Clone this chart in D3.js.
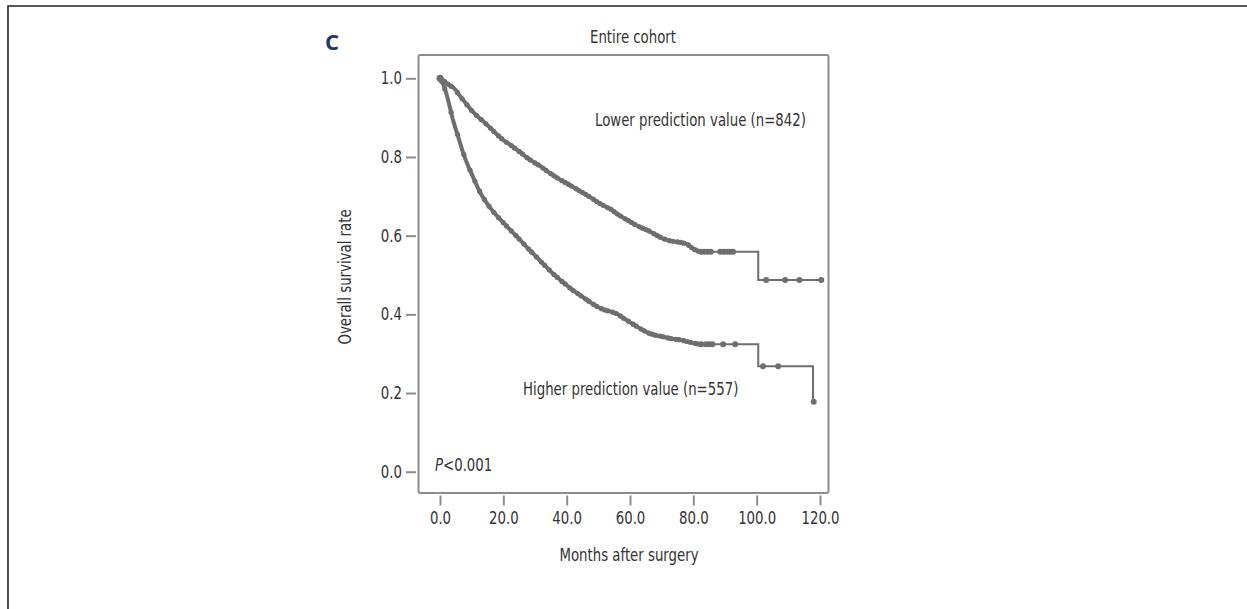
<!DOCTYPE html>
<html>
<head>
<meta charset="utf-8">
<script src="https://cdn.jsdelivr.net/npm/d3@7"></script>
<style>
  body { margin: 0; background: #fff; }
  text { font-family: "DejaVu Sans Condensed", "DejaVu Sans", sans-serif; fill: #333; }
</style>
</head>
<body>
<div id="viz_div"></div>
<script>
// DATA
// ---------------------------------------------------------------------------------------------
const xTicks = [0, 20, 40, 60, 80, 100, 120];
const yTicks = [0, 0.2, 0.4, 0.6, 0.8, 1.0];

// lower prediction value group (n=842): [months, survival]
const lowerSurv = [
  [0, 1.0], [1, 0.995], [2, 0.988], [3, 0.982], [4, 0.978], [5, 0.97], [6, 0.958], [7, 0.948],
  [8, 0.938], [9, 0.928], [10, 0.918], [12, 0.902], [14, 0.888], [16, 0.873], [18, 0.857],
  [20, 0.843], [22, 0.832], [24, 0.82], [26, 0.808], [28, 0.795], [30, 0.785], [32, 0.775],
  [34, 0.763], [36, 0.752], [38, 0.742], [40, 0.733], [42, 0.724], [44, 0.714], [46, 0.705],
  [48, 0.695], [50, 0.684], [52, 0.675], [54, 0.667], [56, 0.655], [58, 0.645], [60, 0.636],
  [62, 0.626], [64, 0.619], [66, 0.612], [68, 0.603], [70, 0.594], [72, 0.588], [74, 0.585],
  [76, 0.583], [78, 0.579], [80, 0.566], [82, 0.559], [100.5, 0.487], [120.5, 0.487]
];
const lowerCensor = [0.5, 1.5, 2.5, 3.5, 5.5, 7, 8.5, 10, 11.5, 13, 14.5, 16, 17, 18.5, 19.5, 21, 22.5,
  23.5, 25, 26, 27.5, 28.5, 30, 31, 32.5, 33.5, 35, 36, 37, 38.5, 39.5, 40.5, 41.5, 43, 44, 45, 46, 47,
  48.5, 49.5, 50.5, 51.5, 53, 54, 55, 56, 57, 58.5, 59.5, 60.5, 61.5, 63, 64, 65, 66, 67.5, 68.5, 69.5,
  71, 72.5, 73.5, 75, 76, 77, 78.5, 79.5, 80.5, 81.5, 82.5, 83.5, 84.5, 85.5, 88.5, 89.5, 90.5, 91.5,
  92.5, 103, 109, 113.5, 120.4];

// higher prediction value group (n=557)
const higherSurv = [
  [0, 1.0], [1, 0.985], [2, 0.962], [3, 0.93], [4, 0.897], [5, 0.87], [6, 0.845], [7, 0.818],
  [8, 0.795], [9, 0.775], [10, 0.757], [11, 0.739], [12, 0.721], [13, 0.705], [14, 0.692],
  [15, 0.68], [16, 0.669], [18, 0.65], [20, 0.633], [22, 0.616], [24, 0.6], [26, 0.583],
  [28, 0.566], [30, 0.55], [32, 0.533], [34, 0.517], [36, 0.501], [38, 0.487], [40, 0.474],
  [42, 0.461], [44, 0.45], [46, 0.439], [48, 0.428], [50, 0.418], [52, 0.411], [54, 0.407],
  [56, 0.401], [58, 0.39], [60, 0.38], [62, 0.37], [64, 0.36], [66, 0.352], [68, 0.347],
  [70, 0.344], [72, 0.34], [74, 0.337], [76, 0.335], [78, 0.331], [80, 0.327], [82, 0.324],
  [100.5, 0.268], [117.8, 0.178], [118.2, 0.178]
];
const higherCensor = [0.5, 1.5, 3.5, 5.5, 7.5, 9.5, 11, 12.5, 14, 15.5, 17, 18.5, 20, 21, 22.5, 24, 25,
  26.5, 28, 29, 30.5, 32, 33, 34.5, 36, 37, 38.5, 39.5, 41, 42, 43.5, 44.5, 46, 47, 48.5, 49.5, 51, 52,
  53, 54.5, 55.5, 57, 58, 59.5, 61, 62, 63.5, 64.5, 66, 67, 68, 69.5, 70.5, 72, 73, 74.5, 75.5, 77, 78,
  79, 80.5, 81.5, 82.5, 84, 85, 86, 89.4, 93.2, 102, 106.8, 118];

// months up to which censoring is dense (tiny steps, curve drawn heavier)
const lowerDenseEnd = 82;
const higherDenseEnd = 82;

// SCALES
// ---------------------------------------------------------------------------------------------
const W = 1247, H = 609;
const x = d3.scaleLinear([0, 120], [440, 820]);
const y = d3.scaleLinear([0, 1], [471.7, 78.3]);
const curveColor = "#6e6e6e";
const axisColor = "#8c8c8c";
const squeeze = 0.87; // narrow the condensed glyphs a bit more

function survAt(data, t) {
  let s = data[0][1];
  for (const d of data) { if (d[0] <= t) s = d[1]; }
  return s;
}

const svg = d3.select("#viz_div").append("svg")
  .attr("width", W).attr("height", H);

// page border (top and left)
svg.append("path")
  .attr("d", `M8,${H} L8,6 L${W},6`)
  .attr("fill", "none").attr("stroke", "#222").attr("stroke-width", 1.6);

// panel letter and title
svg.append("text").attr("x", 325).attr("y", 50)
  .style("font-family", "'Open Sans', 'DejaVu Sans', sans-serif")
  .style("font-weight", "bold").style("font-size", "22px").style("fill", "#1b3a66")
  .text("C");

svg.append("text").attr("class", "cond").attr("x", 633).attr("y", 43).attr("text-anchor", "middle")
  .style("font-size", "17px").text("Entire cohort");

// FRAME
// ---------------------------------------------------------------------------------------------
svg.append("rect")
  .attr("x", 418.5).attr("y", 55).attr("width", 410).attr("height", 438)
  .attr("rx", 2).attr("fill", "none").attr("stroke", axisColor).attr("stroke-width", 2);

// AXES
// ---------------------------------------------------------------------------------------------
const yAxis = svg.append("g").attr("transform", "translate(416,0)")
  .call(d3.axisLeft(y).tickValues(yTicks).tickFormat(d3.format(".1f")).tickSize(10).tickPadding(4));
const xAxis = svg.append("g").attr("transform", "translate(0,495.5)")
  .call(d3.axisBottom(x).tickValues(xTicks).tickFormat(d3.format(".1f")).tickSize(10).tickPadding(6));

[yAxis, xAxis].forEach(a => {
  a.select(".domain").remove();
  a.selectAll(".tick line").attr("stroke", axisColor).attr("stroke-width", 2);
  a.selectAll(".tick text").attr("class", "cond").style("font-size", "17px").style("fill", "#333")
    .style("font-family", "'DejaVu Sans Condensed', 'DejaVu Sans', sans-serif");
});

// CURVES
// ---------------------------------------------------------------------------------------------
// dense part: many tiny steps, looks like a thick wiggly line at this size
const denseLine = d3.line().curve(d3.curveLinear)
  .x(d => x(d[0])).y(d => y(d[1]));
// sparse tail: clear steps
const stepLine = d3.line().curve(d3.curveStepAfter)
  .x(d => x(d[0])).y(d => y(d[1]));

[[lowerSurv, lowerCensor, lowerDenseEnd], [higherSurv, higherCensor, higherDenseEnd]].forEach(([surv, cens, denseEnd]) => {
  const dense = surv.filter(d => d[0] <= denseEnd);
  const tail = surv.filter(d => d[0] >= denseEnd);
  const denseAt = d3.scaleLinear(dense.map(v => v[0]), dense.map(v => v[1]));
  svg.append("path").datum(dense)
    .attr("fill", "none").attr("stroke", curveColor).attr("stroke-width", 4)
    .attr("stroke-linejoin", "round").attr("stroke-linecap", "round")
    .attr("d", denseLine);
  svg.append("path").datum(tail)
    .attr("fill", "none").attr("stroke", curveColor).attr("stroke-width", 2)
    .attr("d", stepLine);
  svg.append("g").selectAll("circle").data(cens).enter().append("circle")
    .attr("cx", d => x(d))
    .attr("cy", d => d <= denseEnd ? y(denseAt(d)) : y(survAt(surv, d)))
    .attr("r", d => d <= denseEnd ? 2.6 : 3).attr("fill", curveColor);
});
svg.append("circle").attr("cx", x(0)).attr("cy", y(1)).attr("r", 3.5).attr("fill", curveColor);

// LABELS
// ---------------------------------------------------------------------------------------------
svg.append("text").attr("class", "cond").attr("x", 595).attr("y", 126).style("font-size", "17px")
  .text("Lower prediction value (n=842)");
svg.append("text").attr("class", "cond").attr("x", 523).attr("y", 395).style("font-size", "17px")
  .text("Higher prediction value (n=557)");

const p = svg.append("text").attr("class", "cond").attr("x", 435).attr("y", 471).style("font-size", "17px");
p.append("tspan").style("font-style", "italic").text("P");
p.append("tspan").text("<0.001");

svg.append("text").attr("class", "cond").attr("x", 629).attr("y", 561).attr("text-anchor", "middle")
  .style("font-size", "17px").text("Months after surgery");

svg.append("text").attr("class", "cond").attr("transform", "translate(351,277) rotate(-90)")
  .attr("text-anchor", "middle").style("font-size", "17px")
  .text("Overall survival rate");

// squeeze all condensed labels horizontally
svg.selectAll("text.cond").each(function () {
  const len = this.getComputedTextLength();
  d3.select(this).attr("textLength", len * squeeze).attr("lengthAdjust", "spacingAndGlyphs");
});
</script>
</body>
</html>
